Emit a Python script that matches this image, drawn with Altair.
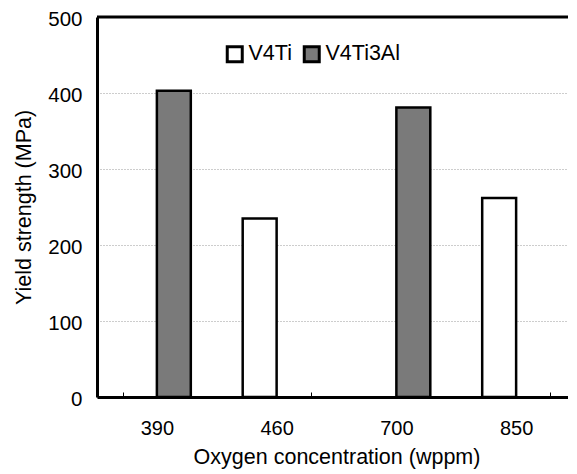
import altair as alt
import pandas as pd

categories = ["390", "460", "700", "850"]
series = ["V4Ti3Al", "V4Ti", "V4Ti3Al", "V4Ti"]
values = [403, 235, 381, 262]
series_order = ["V4Ti", "V4Ti3Al"]
series_colors = ["#ffffff", "#7a7a7a"]
y_ticks = [0, 100, 200, 300, 400, 500]
y_top = [500]

FONT = "Liberation Sans"

df = pd.DataFrame({"conc": categories, "alloy": series, "ys": values})
top_df = pd.DataFrame({"ys": y_top})

bars = alt.Chart(df).mark_bar(stroke="black", strokeWidth=2.5).encode(
    x=alt.X(
        "conc:N",
        sort=categories,
        title="Oxygen concentration (wppm)",
        scale=alt.Scale(paddingInner=0.4333, paddingOuter=0.21667),
        axis=alt.Axis(
            labelAngle=0,
            labelFontSize=20,
            labelPadding=26,
            tickBand="extent",
            tickSize={"expr": "-5"},
            tickColor="black",
            tickWidth=1,
            domainColor="black",
            domainWidth=3,
            titleFontSize=21.5,
            titlePadding=8,
        ),
    ),
    xOffset=alt.XOffset(
        "alloy:N",
        sort=series_order,
        scale=alt.Scale(domain=series_order, paddingInner=0, paddingOuter=0),
    ),
    y=alt.Y(
        "ys:Q",
        title="Yield strength (MPa)",
        scale=alt.Scale(domain=[0, 500], nice=False),
        axis=alt.Axis(
            values=y_ticks,
            ticks=False,
            labelFontSize=20.5,
            labelPadding=15,
            labelOffset=2,
            domainColor="black",
            domainWidth=3,
            grid=True,
            gridColor="#9a9a9a",
            gridDash=[1, 2],
            gridWidth=1,
            titleFontSize=21.5,
            titlePadding=12,
        ),
    ),
    fill=alt.Fill(
        "alloy:N",
        scale=alt.Scale(domain=series_order, range=series_colors),
        legend=alt.Legend(
            title=None,
            orient="none",
            legendX=127,
            legendY=26,
            direction="horizontal",
            symbolType="square",
            symbolSize=225,
            symbolStrokeColor="black",
            symbolStrokeWidth=3,
            labelFontSize=21.5,
            labelOffset=3,
            columnPadding=6,
        ),
    ),
)

top_rule = alt.Chart(top_df).mark_rule(color="black", strokeWidth=3).encode(
    y=alt.Y("ys:Q")
)

chart = (
    alt.layer(bars, top_rule)
    .properties(
        width=479,
        height=380,
        autosize=alt.AutoSizeParams(type="none"),
        padding={"left": 89, "top": 9, "right": -8, "bottom": 80},
    )
    .configure(font=FONT)
    .configure_axis(labelColor="black", titleColor="black", titleFontWeight="normal")
    .configure_legend(labelColor="black")
    .configure_view(stroke="#b5b5b5", strokeWidth=1)
)

chart.save("out.html", embed_options={"renderer": "svg", "actions": False})
